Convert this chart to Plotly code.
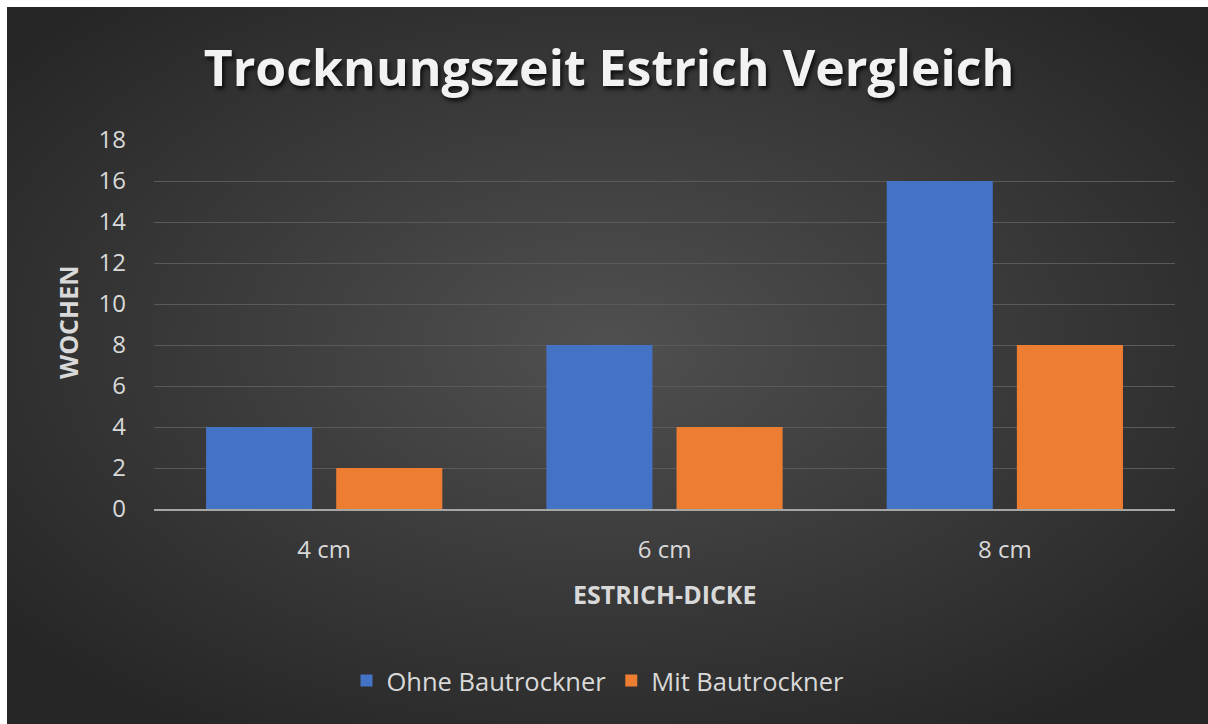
import base64
import plotly.graph_objects as go

categories = ["4 cm", "6 cm", "8 cm"]
ohne = [4, 8, 16]
mit = [2, 4, 8]
series_names = ["Ohne Bautrockner", "Mit Bautrockner"]
y_ticks = [0, 2, 4, 6, 8, 10, 12, 14, 16, 18]

W, H = 1208, 724
L, R, T, B = 154, 33, 140, 215
PW, PH = W - L - R, H - T - B
BORDER = 7

FONT = "'Open Sans', Lato, sans-serif"

BW, BH = W - BORDER, H - BORDER
svg = (
    f'<svg xmlns="http://www.w3.org/2000/svg" width="{BW}" height="{BH}" preserveAspectRatio="none">'
    '<defs><radialGradient id="g" cx="0.5" cy="0.47" r="0.64" gradientUnits="objectBoundingBox">'
    '<stop offset="0" stop-color="#505050"/><stop offset="1" stop-color="#262626"/>'
    f'</radialGradient></defs><rect width="{BW}" height="{BH}" fill="url(#g)"/></svg>'
)
src = "data:image/svg+xml;base64," + base64.b64encode(svg.encode()).decode()


def px_x(p):
    return (p - L) / PW


def px_y(p):
    return (H - B - p) / PH


fig = go.Figure()
fig.add_trace(go.Bar(x=categories, y=ohne, name=series_names[0],
                     marker=dict(color="#4472c4", line=dict(width=0))))
fig.add_trace(go.Bar(x=categories, y=mit, name=series_names[1],
                     marker=dict(color="#ed7d31", line=dict(width=0))))

fig.update_layout(
    width=W, height=H,
    margin=dict(l=L, r=R, t=T, b=B, autoexpand=False),
    paper_bgcolor="white",
    plot_bgcolor="rgba(0,0,0,0)",
    barmode="group",
    bargap=0.235,
    bargroupgap=0.185,
    images=[dict(source=src, xref="paper", yref="paper",
                 x=px_x(BORDER), y=px_y(BORDER),
                 sizex=px_x(W) - px_x(BORDER), sizey=px_y(BORDER) - px_y(H),
                 xanchor="left", yanchor="top", sizing="stretch", layer="below")],
    title=dict(text="Trocknungszeit Estrich Vergleich", x=609 / W, xref="container",
               xanchor="center", y=1 - 68 / H, yanchor="middle",
               font=dict(family=FONT, size=50, color="#f2f2f2", weight="bold",
                         shadow="2px 3px 4px rgba(0,0,0,0.8)")),
    font=dict(family=FONT, color="#d9d9d9"),
    showlegend=True,
    legend=dict(orientation="h", x=px_x(598), xanchor="center", y=px_y(681), yanchor="middle",
                font=dict(size=25.5, color="#d9d9d9", family=FONT), bgcolor="rgba(0,0,0,0)",
                itemwidth=30, tracegroupgap=0),
    xaxis=dict(showgrid=False, showline=True, linecolor="#a6a6a6", linewidth=2,
               tickfont=dict(size=24, color="#d9d9d9", family=FONT), ticks="",
               ticklabelstandoff=18, fixedrange=True),
    yaxis=dict(range=[0, 18], tickvals=y_ticks, showgrid=True, gridcolor="#5a5a5a",
               gridwidth=1, zeroline=False, showline=False,
               tickfont=dict(size=24, color="#d9d9d9", family=FONT), ticks="",
               ticklabelstandoff=27, fixedrange=True),
    annotations=[
        dict(text="<b>WOCHEN</b>", xref="paper", yref="paper", x=px_x(68), y=px_y(323),
             textangle=-90, showarrow=False, font=dict(size=25, color="#d9d9d9", family=FONT),
             xanchor="center", yanchor="middle"),
        dict(text="<b>ESTRICH-DICKE</b>", xref="paper", yref="paper", x=px_x(664), y=px_y(594),
             showarrow=False, font=dict(size=25, color="#d9d9d9", family=FONT),
             xanchor="center", yanchor="middle"),
    ],
)

fig.write_html(
    "out.html",
    config={"displayModeBar": False},
    post_script=(
        "document.documentElement.style.overflow='hidden';"
        "document.body.style.overflow='hidden';"
        "document.body.style.margin='0';"
    ),
)
